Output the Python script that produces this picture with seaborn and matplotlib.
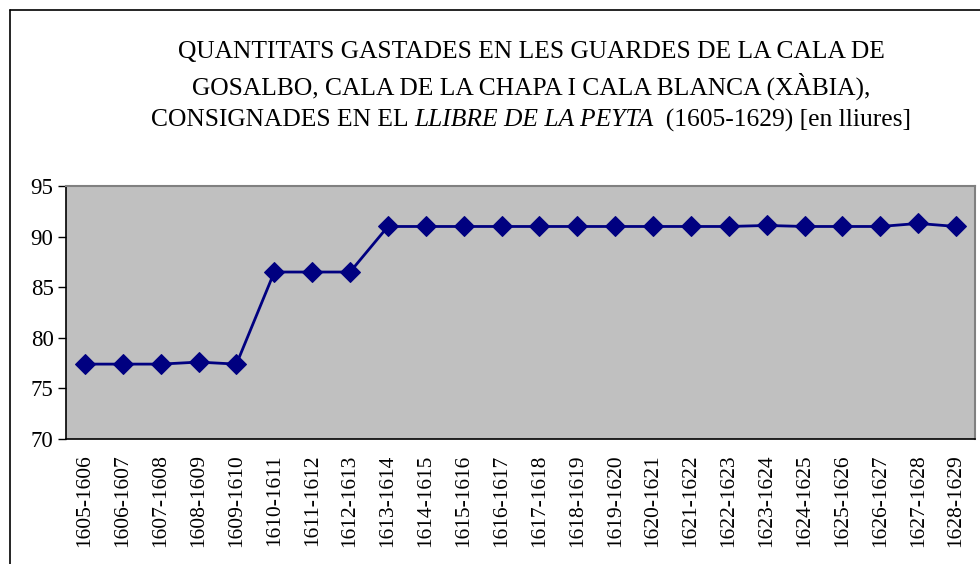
import matplotlib
matplotlib.use("Agg")
import matplotlib.pyplot as plt
import seaborn as sns
import pandas as pd
from matplotlib.lines import Line2D

periods = ["1605-1606", "1606-1607", "1607-1608", "1608-1609", "1609-1610",
           "1610-1611", "1611-1612", "1612-1613", "1613-1614", "1614-1615",
           "1615-1616", "1616-1617", "1617-1618", "1618-1619", "1619-1620",
           "1620-1621", "1621-1622", "1622-1623", "1623-1624", "1624-1625",
           "1625-1626", "1626-1627", "1627-1628", "1628-1629"]
amounts = [77.4, 77.4, 77.4, 77.6, 77.4,
           86.5, 86.5, 86.5, 91.0, 91.0,
           91.0, 91.0, 91.0, 91.0, 91.0,
           91.0, 91.0, 91.0, 91.1, 91.0,
           91.0, 91.0, 91.3, 91.0]
y_ticks = [70, 75, 80, 85, 90, 95]

sns.set_theme(style="white")
plt.rcParams["font.family"] = ["Liberation Serif", "DejaVu Serif"]
plt.rcParams["text.color"] = "black"
plt.rcParams["xtick.color"] = "black"
plt.rcParams["ytick.color"] = "black"

W, H = 980, 564
fig = plt.figure(figsize=(W / 100, H / 100), dpi=100)
fig.patch.set_facecolor("white")

ax = fig.add_axes([66 / W, 1 - 439 / H, (975 - 66) / W, (439 - 186) / H])
ax.set_facecolor("#C0C0C0")

df = pd.DataFrame({"period": periods, "amount": amounts})
sns.lineplot(data=df, x="period", y="amount", ax=ax, color="#000080",
             linewidth=2.0, marker="D", markersize=10.5,
             markeredgecolor="#000080", markerfacecolor="#000080", sort=False)

ax.set_xlim(-0.5, len(periods) - 0.5)
ax.set_ylim(70, 95)
ax.set_yticks(y_ticks)
ax.set_yticklabels([str(v) for v in y_ticks], fontsize=16.5, color="black")
ax.set_xticks(range(len(periods)))
ax.set_xticklabels(periods, rotation=90, fontsize=15.5, color="black")
ax.set_xticks([i - 0.5 for i in range(len(periods) + 1)], minor=True)
ax.tick_params(axis="x", which="major", length=0, pad=11)
ax.tick_params(axis="x", which="minor", length=6, width=1, color="black", direction="out")
ax.tick_params(axis="y", which="major", length=6, width=1, color="black", direction="out", pad=3, left=True)
ax.set_xlabel("")
ax.set_ylabel("")
ax.grid(False)

for side in ["left", "bottom"]:
    ax.spines[side].set_color("black")
    ax.spines[side].set_linewidth(1.2)
for side in ["top", "right"]:
    ax.spines[side].set_color("#808080")
    ax.spines[side].set_linewidth(1.5)

# outer chart frame (left and top visible)
fig.add_artist(Line2D([10 / W, 10 / W], [0, 1 - 10 / H], transform=fig.transFigure, color="black", lw=1.2))
fig.add_artist(Line2D([10 / W, 1], [1 - 10 / H, 1 - 10 / H], transform=fig.transFigure, color="black", lw=1.2))

# title
cx = 531 / W
tfs = 18.4
fig.text(cx, 1 - 52 / H, "QUANTITATS GASTADES EN LES GUARDES DE LA CALA DE",
         ha="center", va="center", fontsize=tfs, color="black")
fig.text(cx, 1 - 86 / H, "GOSALBO, CALA DE LA CHAPA I CALA BLANCA (XÀBIA),",
         ha="center", va="center", fontsize=tfs, color="black")

parts = [("CONSIGNADES EN EL ", "normal"), ("LLIBRE DE LA PEYTA", "italic"),
         ("  (1605-1629) [en lliures]", "normal")]
fig.canvas.draw()
renderer = fig.canvas.get_renderer()
texts = []
for s, st in parts:
    t = fig.text(0, 1 - 120 / H, s, ha="left", va="center", fontsize=tfs, style=st, color="black")
    texts.append(t)
widths = [t.get_window_extent(renderer).width / W for t in texts]
x0 = cx - sum(widths) / 2
for t, w in zip(texts, widths):
    t.set_x(x0)
    x0 += w

fig.savefig("out.png", dpi=100, facecolor="white")
